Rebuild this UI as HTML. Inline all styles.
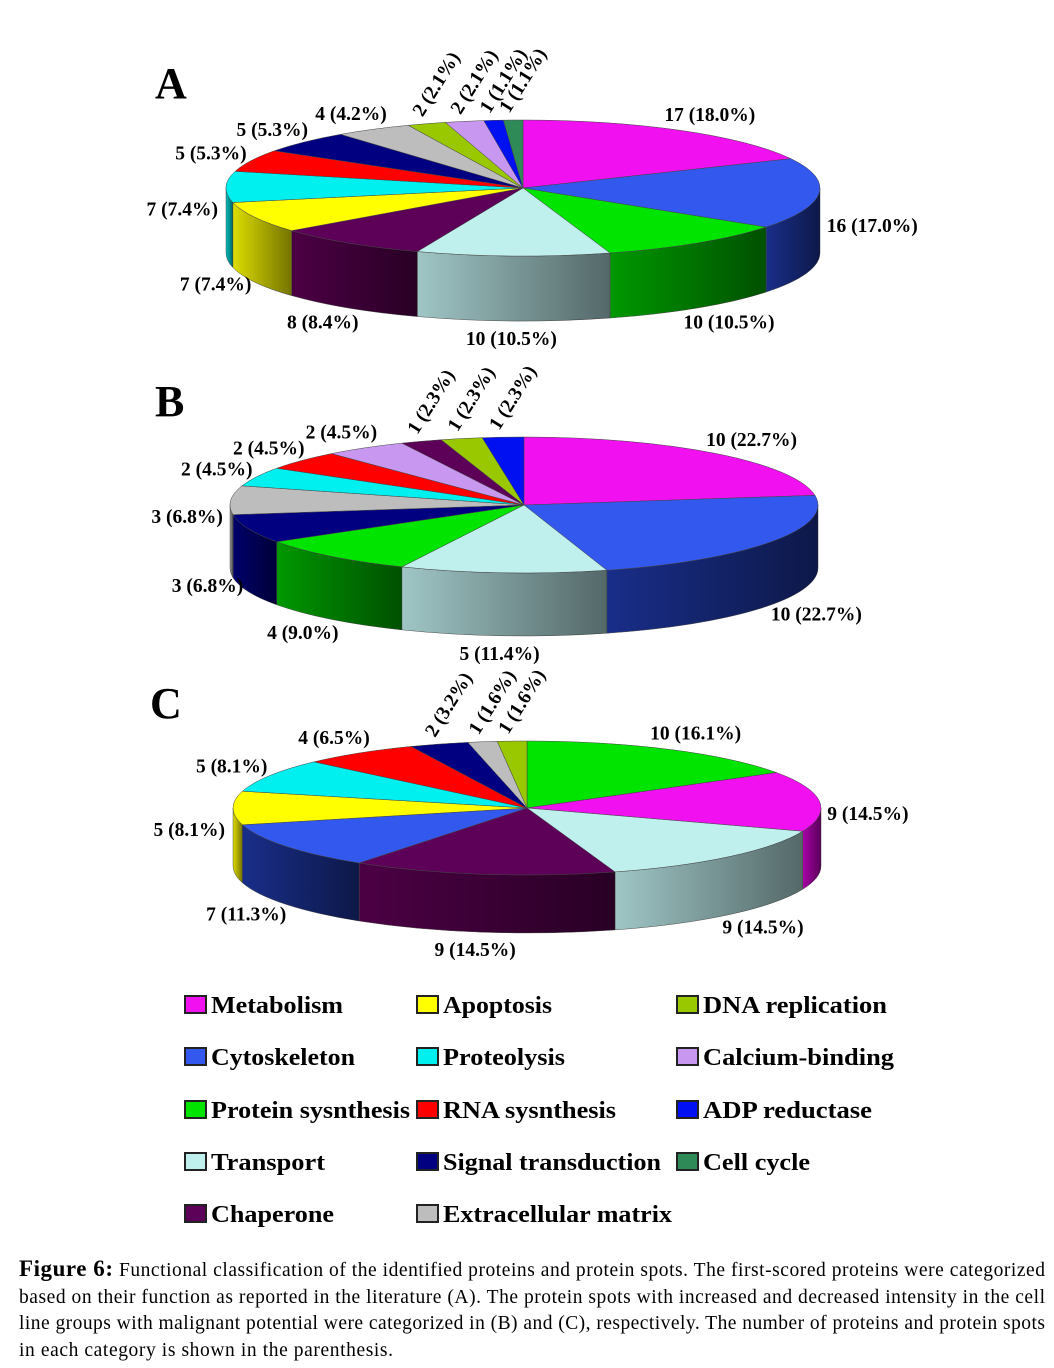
<!DOCTYPE html>
<html><head><meta charset="utf-8"><style>
body{margin:0;background:#fff;}
svg{display:block;}
</style></head><body>
<svg id="fig" width="1054" height="1368" viewBox="0 0 1054 1368" xmlns="http://www.w3.org/2000/svg" font-family="'Liberation Serif', serif">
<defs>
<linearGradient id="shade" gradientUnits="objectBoundingBox" x1="0" y1="0" x2="1" y2="0">
<stop offset="0" stop-color="#000" stop-opacity="0.05"/><stop offset="1" stop-color="#000" stop-opacity="0.5"/>
</linearGradient>
</defs>
<text x="155" y="98" font-size="44" font-weight="bold">A</text>
<text x="155" y="416" font-size="44" font-weight="bold">B</text>
<text x="150" y="718" font-size="44" font-weight="bold">C</text>
<g id="charts"></g>
<g id="legend"></g>
<g font-size="19.5">
<text x="19" y="1276" textLength="1026" lengthAdjust="spacing"><tspan font-weight="bold" font-size="23">Figure 6:</tspan> Functional classification of the identified proteins and protein spots. The first-scored proteins were categorized</text>
<text x="19" y="1303" textLength="1026" lengthAdjust="spacing">based on their function as reported in the literature (A). The protein spots with increased and decreased intensity in the cell</text>
<text x="19" y="1329" textLength="1026" lengthAdjust="spacing">line groups with malignant potential were categorized in (B) and (C), respectively. The number of proteins and protein spots</text>
<text x="19" y="1356" textLength="374" lengthAdjust="spacing">in each category is shown in the parenthesis.</text>
</g>
</svg>
<script>
const categories=["Metabolism","Cytoskeleton","Protein sysnthesis","Transport","Chaperone","Apoptosis","Proteolysis","RNA sysnthesis","Signal transduction","Extracellular matrix","DNA replication","Calcium-binding","ADP reductase","Cell cycle"];
const colors=["#f010f0","#3358ee","#00e400","#bff0ee","#5c0058","#ffff00","#00f0f0","#ff0000","#000080","#bdbdbd","#99c800","#c898f0","#0010f0","#2e8b57"];
const sideColors=["#b000b0","#1a3090","#00a000","#a8d0d0","#500048","#e8e800","#00c8c8","#d00000","#000070","#a0a0a0","#80a800","#a080c8","#0000c0","#206840"];
// Panel A
const catsA=[0,1,2,3,4,5,6,7,8,9,10,11,12,13];
const valsA=[17,16,10,10,8,7,7,5,5,4,2,2,1,1];
const pctA=["18.0","17.0","10.5","10.5","8.4","7.4","7.4","5.3","5.3","4.2","2.1","2.1","1.1","1.1"];
// Panel B
const catsB=[0,1,3,2,8,9,6,7,11,4,10,12];
const valsB=[10,10,5,4,3,3,2,2,2,1,1,1];
const pctB=["22.7","22.7","11.4","9.0","6.8","6.8","4.5","4.5","4.5","2.3","2.3","2.3"];
// Panel C
const catsC=[2,0,3,4,1,5,6,7,8,9,10];
const valsC=[10,9,9,9,7,5,5,4,2,1,1];
const pctC=["16.1","14.5","14.5","14.5","11.3","8.1","8.1","6.5","3.2","1.6","1.6"];

const NS="http://www.w3.org/2000/svg";
function mk(tag,attrs,parent){const e=document.createElementNS(NS,tag);for(const k in attrs)e.setAttribute(k,attrs[k]);parent.appendChild(e);return e;}
const charts=document.getElementById('charts');

function pie(name,cats,vals,pcts,cx,cy,rx,ry,depth){
  const g=mk('g',{},charts);
  
  
  const total=vals.reduce((a,b)=>a+b,0);
  const px=t=>cx+rx*Math.sin(t), py=t=>cy-ry*Math.cos(t);
  const slices=[];let a=0;
  vals.forEach((v,i)=>{const a0=a,a1=a+v/total*2*Math.PI;slices.push([a0,a1]);a=a1;});
  slices.forEach(([a0,a1],i)=>{
    const s=Math.max(a0,Math.PI/2),e=Math.min(a1,3*Math.PI/2);
    if(e<=s)return;
    const d=`M${px(s)},${py(s)} A${rx},${ry} 0 0 1 ${px(e)},${py(e)} L${px(e)},${py(e)+depth} A${rx},${ry} 0 0 0 ${px(s)},${py(s)+depth} Z`;
    const p=mk('path',{d,fill:sideColors[cats[i]],stroke:'#555','stroke-width':0.5},g);
    
    
    const q=mk('path',{d,fill:'url(#shade)'},g);
    
    
  });
  slices.forEach(([a0,a1],i)=>{
    const large=(a1-a0)>Math.PI?1:0;
    const d=`M${cx},${cy} L${px(a0)},${py(a0)} A${rx},${ry} 0 ${large} 1 ${px(a1)},${py(a1)} Z`;
    const p=mk('path',{d,fill:colors[cats[i]],stroke:'#444','stroke-width':0.5},g);
    
    
  });
  slices.forEach(([a0,a1],i)=>{
    const m=(a0+a1)/2, frac=vals[i]/total;
    const txt=vals[i]+' ('+pcts[i]+'%)';
    let t;
    if(frac<0.035 && Math.cos(m)>0.8){
      const x=px(m)-4,y=py(m)-6;
      t=mk('text',{x,y,'font-size':19.5,'font-weight':'bold',transform:`rotate(-58 ${x} ${y})`},g);
      t.textContent=txt;
    }else{
      const sn=Math.sin(m),cs=Math.cos(m);
      t=mk('text',{'font-size':19.5,'font-weight':'bold','text-anchor':'middle'},g);
      t.textContent=txt;
      const w=t.getComputedTextLength();
      let x=cx+(rx+4)*sn+sn*(w/2+4);
      let y=cy-(ry+18)*cs+6+depth*Math.max(0,Math.min(1,(0.3-cs)/0.8));
      t.setAttribute('x',x);t.setAttribute('y',y);
    }
    
    
  });
}
pie('pie-chart-a',catsA,valsA,pctA,523,188,297,68,65);
pie('pie-chart-b',catsB,valsB,pctB,524,505,294,68,63);
pie('pie-chart-c',catsC,valsC,pctC,527,808,294,67,58);

const legOrder=[0,5,10,1,6,11,2,7,12,3,8,13,4,9];
const colX=[185,417,677], rowY=[1005,1057,1110,1162,1214];
const legW=[132,109,184,144,122,191,199,173,169,114,218,107,123,229];
const lg=document.getElementById('legend');
legOrder.forEach((c,k)=>{
  const col=k%3,row=Math.floor(k/3);
  const x=colX[col],y=rowY[row];
  const r=mk('rect',{x,y:y-9,width:21,height:17,fill:colors[c],stroke:'#222','stroke-width':2},lg);
  
  
  const t=mk('text',{x:x+26,y:y+8,'font-size':24.5,'font-weight':'bold',textLength:legW[k],lengthAdjust:'spacingAndGlyphs'},lg);
  t.textContent=categories[c];
  
  
});
</script>
</body></html>
